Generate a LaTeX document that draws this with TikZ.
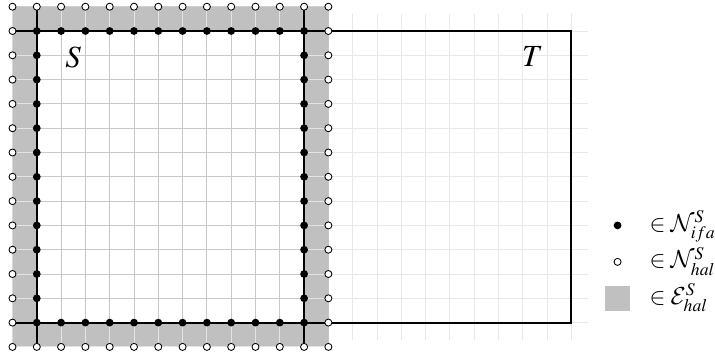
\documentclass[tikz,border=0pt]{standalone}
\usepackage{mathptmx}
\DeclareMathAlphabet{\mathcal}{OMS}{cmsy}{m}{n}
\usetikzlibrary{positioning}
\definecolor{HaloGray}{RGB}{192,192,192}
\definecolor{GridGray}{RGB}{200,200,200}
\definecolor{HaloLine}{RGB}{228,228,228}
\definecolor{FarGrid}{RGB}{232,232,232}
\tikzset{
  ifadot/.style={circle,fill=black,inner sep=0pt,minimum size=1.6mm},
  haldot/.style={circle,draw=black,fill=white,line width=0.5pt,
    inner sep=0pt,minimum size=1.45mm},
  halosq/.style={fill=HaloGray,inner sep=0pt,minimum size=5.1mm},
  boxline/.style={line width=1.2pt,draw=black},
  boxlabel/.style={font=\fontsize{18}{21}\selectfont},
  legendtext/.style={anchor=base west,inner sep=0pt,
    font=\fontsize{14}{16}\selectfont},
}

\begin{document}
\begin{tikzpicture}[x=0.5cm,y=0.5cm]
  \useasboundingbox (-0.514,-0.415) rectangle (28.91,14.276);
  % grid round T
  \draw[FarGrid,line width=0.5pt,step=0.5cm] (11.3,0.3) grid (23.7,13.7);
  % grid of S and its halo
  \draw[GridGray,line width=0.5pt,step=0.5cm] (0,0) grid (13,14);
  \fill[HaloGray,even odd rule] (0,0) rectangle (13,14) (1,1) rectangle (12,13);
  \begin{scope}[even odd rule]
    \clip (0,0) rectangle (13,14) (1,1) rectangle (12,13);
    \draw[HaloLine,line width=0.5pt,step=0.5cm] (0,0) grid (13,14);
  \end{scope}
  % subdomain boundaries
  \draw[boxline] (1,0) -- (1,14);
  \draw[boxline] (12,0) -- (12,14);
  \draw[boxline] (0,1) -- (23,1) -- (23,13) -- (0,13);
  % nodes
  \foreach \i in {1,...,12} {
    \node[ifadot] (ifa-\i-1) at (\i,1) {};
    \node[ifadot] (ifa-\i-13) at (\i,13) {};
  }
  \foreach \j in {2,...,12} {
    \node[ifadot] (ifa-1-\j) at (1,\j) {};
    \node[ifadot] (ifa-12-\j) at (12,\j) {};
  }
  \foreach \i in {0,...,13} {
    \node[haldot] (hal-\i-0) at (\i,0) {};
    \node[haldot] (hal-\i-14) at (\i,14) {};
  }
  \foreach \j in {1,...,13} {
    \node[haldot] (hal-0-\j) at (0,\j) {};
    \node[haldot] (hal-13-\j) at (13,\j) {};
  }
  \node[boxlabel] (labS) at (2.5,11.9) {$S$};
  \node[boxlabel] (labT) at (21.4,11.95) {$T$};
  % legend
  \node[ifadot] (legifa) at (24.9,5) {};
  \node[haldot] (leghal) at (24.9,3.5) {};
  \node[halosq] (legsq) at (24.9,2) {};
  \node[legendtext] (txtifa) at (26.2,4.76) {$\in \mathcal{N}^S_{ifa}$};
  \node[legendtext] (txthal) at (26.2,3.26) {$\in \mathcal{N}^S_{hal}$};
  \node[legendtext] (txtsq) at (26.2,1.76) {$\in \mathcal{E}^S_{hal}$};
\end{tikzpicture}
\end{document}
